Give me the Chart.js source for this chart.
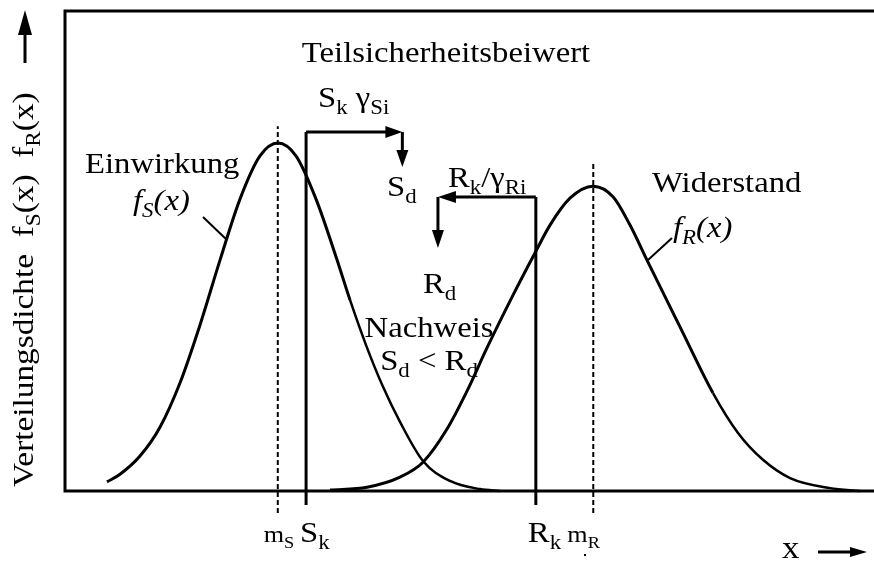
<!DOCTYPE html>
<html><head><meta charset="utf-8">
<script src="https://cdn.jsdelivr.net/npm/chart.js@4/dist/chart.umd.min.js"></script>
<style>html,body{margin:0;padding:0;background:#fff}canvas{display:block}</style>
</head><body>
<canvas id="c" width="874" height="563"></canvas>
<script>
// ---- data (x: relative position 0..100 along the x axis, y: relative density) ----
const sX = [5.19,6.80,9.27,11.74,14.21,16.69,19.16,21.63,24.10,26.33,28.55,31.03,33.50,35.23,37.21,39.31,41.41,44.25,47.59,51.30,53.77];
const sY = [0.019,0.035,0.073,0.133,0.225,0.346,0.481,0.608,0.698,0.725,0.698,0.608,0.488,0.398,0.304,0.217,0.144,0.0625,0.021,0.004,0.000];
const rX = [32.76,37.33,41.41,44.25,47.22,49.69,52.16,55.38,58.22,59.95,62.42,65.27,67.74,69.84,71.94,76.02,80.10,83.19,86.28,89.62,94.56,98.27];
const rY = [0.002,0.008,0.029,0.060,0.129,0.208,0.298,0.408,0.500,0.554,0.610,0.635,0.613,0.554,0.481,0.342,0.204,0.121,0.065,0.027,0.006,0.000];
const markerNames  = ['mS','Sk','Rk','mR'];
const markerX      = [26.3, 29.8, 58.2, 65.3];
const markerTop    = [0.760, 0.748, 0.6125, 0.683];
const markerBottom = [-0.046, -0.029, -0.029, -0.046];
const markerDashed = [true, false, false, true];
const sArrowX = [29.8, 41.7, 41.7];
const sArrowY = [0.748, 0.748, 0.675];
const rArrowX = [58.2, 46.1, 46.1];
const rArrowY = [0.6125, 0.6125, 0.506];

const FONT = '"Liberation Serif", "Times New Roman", serif';
const SX = 1.09; // horizontal stretch of the lettering

function rich(ctx, parts, x, y, size, align) {
  const items = parts.map(([t, k]) => {
    const sub = k.includes('b'), it = k.includes('i');
    const fs = sub ? size * 0.7 : size;
    const font = (it ? 'italic ' : '') + fs.toFixed(1) + 'px ' + FONT;
    ctx.font = font;
    return {t, font, w: ctx.measureText(t).width, dy: sub ? size * 0.24 : 0};
  });
  const total = items.reduce((a, b) => a + b.w, 0);
  ctx.save();
  ctx.translate(x, y);
  ctx.scale(SX, 1);
  let cx = align === 'center' ? -total / 2 : 0;
  ctx.fillStyle = '#000';
  ctx.textBaseline = 'alphabetic';
  ctx.textAlign = 'left';
  for (const it of items) { ctx.font = it.font; ctx.fillText(it.t, cx, it.dy); cx += it.w; }
  ctx.restore();
}

function head(ctx, tx, ty, dir, len, half) {
  ctx.beginPath();
  ctx.moveTo(tx, ty);
  if (dir === 'r') { ctx.lineTo(tx - len, ty - half); ctx.lineTo(tx - len, ty + half); }
  if (dir === 'l') { ctx.lineTo(tx + len, ty - half); ctx.lineTo(tx + len, ty + half); }
  if (dir === 'd') { ctx.lineTo(tx - half, ty - len); ctx.lineTo(tx + half, ty - len); }
  if (dir === 'u') { ctx.lineTo(tx - half, ty + len); ctx.lineTo(tx + half, ty + len); }
  ctx.closePath();
  ctx.fill();
}

function arrowPath(ctx, xs, ys, len, half) {
  const n = xs.length;
  const dirOf = (a, b) => Math.abs(b[0]-a[0]) > Math.abs(b[1]-a[1]) ? (b[0] > a[0] ? 'r' : 'l') : (b[1] > a[1] ? 'd' : 'u');
  ctx.lineWidth = 3; ctx.lineCap = 'butt'; ctx.strokeStyle = '#000'; ctx.fillStyle = '#000';
  for (let i = 0; i < n - 1; i++) {
    const a = [xs[i], ys[i]], b = [xs[i+1], ys[i+1]];
    const d = dirOf(a, b);
    let ex = b[0], ey = b[1];
    if (d === 'r') ex -= len * 0.8; if (d === 'l') ex += len * 0.8;
    if (d === 'd') ey -= len * 0.8; if (d === 'u') ey += len * 0.8;
    ctx.beginPath(); ctx.moveTo(a[0], a[1]); ctx.lineTo(ex, ey); ctx.stroke();
    head(ctx, b[0], b[1], d, len, half);
  }
}

const deco = {
  id: 'deco',
  beforeDatasetsDraw(chart) {
    const {ctx, scales: {x, y}} = chart;
    const L = x.getPixelForValue(0), R = x.getPixelForValue(100);
    const T = y.getPixelForValue(1), B = y.getPixelForValue(0);
    ctx.save();
    ctx.strokeStyle = '#000'; ctx.lineWidth = 3; ctx.lineCap = 'square';
    ctx.beginPath();
    ctx.moveTo(R + 5, T); ctx.lineTo(L, T); ctx.lineTo(L, B); ctx.lineTo(R + 5, B);
    ctx.stroke();
    ctx.restore();
  },
  afterDatasetsDraw(chart) {
    const {ctx, scales: {x, y}} = chart;
    const px = v => x.getPixelForValue(v), py = v => y.getPixelForValue(v);
    ctx.save();
    arrowPath(ctx, sArrowX.map(px), sArrowY.map(py), 17, 6);
    arrowPath(ctx, rArrowX.map(px), rArrowY.map(py), 18, 6);

    // leader lines
    ctx.lineWidth = 2; ctx.strokeStyle = '#000';
    ctx.beginPath(); ctx.moveTo(203, 217); ctx.lineTo(227, 240); ctx.stroke();
    ctx.beginPath(); ctx.moveTo(672, 238); ctx.lineTo(648, 260); ctx.stroke();

    const F = 30;
    rich(ctx, [['Teilsicherheitsbeiwert','']], 446, 62, F, 'center');
    rich(ctx, [['S',''],['k','b'],[' γ',''],['Si','b']], 318, 107, F);
    rich(ctx, [['S',''],['d','b']], 387, 196, F);
    rich(ctx, [['R',''],['k','b'],['/γ',''],['Ri','b']], 448, 187, F);
    rich(ctx, [['R',''],['d','b']], 423, 293, F);
    rich(ctx, [['Nachweis','']], 429, 337, F, 'center');
    rich(ctx, [['S',''],['d','b'],[' < R',''],['d','b']], 429, 370, F, 'center');
    rich(ctx, [['Einwirkung','']], 85, 173, F);
    rich(ctx, [['f','i'],['S','ib'],['(x)','i']], 133, 210, F);
    rich(ctx, [['Widerstand','']], 652, 192, F);
    rich(ctx, [['f','i'],['R','ib'],['(x)','i']], 673, 237, F);

    // labels under the x axis, at the marker positions
    const lab = {
      mS: [['m',''],['S','b']],
      Sk: [['S',''],['k','b']],
      Rk: [['R',''],['k','b']],
      mR: [['m',''],['R','b']]
    };
    const labOff = {mS: -14, Sk: -6, Rk: -8, mR: -26};
    const labSize = {mS: 24, Sk: 30, Rk: 30, mR: 24};
    markerNames.forEach((n, i) => rich(ctx, lab[n], px(markerX[i]) + labOff[n], 542, labSize[n]));
    ctx.fillRect(584, 554, 2, 2);

    // x axis caption with arrow
    rich(ctx, [['x','']], 782, 558, 32);
    ctx.lineWidth = 3;
    ctx.beginPath(); ctx.moveTo(818, 552); ctx.lineTo(852, 552); ctx.stroke();
    head(ctx, 867, 552, 'r', 17, 5);

    // y axis caption (rotated) with arrow
    ctx.save();
    ctx.translate(33, 487);
    ctx.rotate(-Math.PI / 2);
    ctx.scale(1.11, 1);
    const yParts = [['Verteilungsdichte  ',''],['f',''],['S','b'],['(x)  ',''],['f',''],['R','b'],['(x)','']];
    let cx = 0;
    yParts.forEach(([t, k]) => {
      const sub = k === 'b';
      const fs = sub ? 21 : 30;
      ctx.font = fs + 'px ' + FONT;
      ctx.fillText(t, cx, sub ? 7 : 0);
      cx += ctx.measureText(t).width;
    });
    ctx.restore();
    ctx.lineWidth = 3;
    ctx.beginPath(); ctx.moveTo(25, 63); ctx.lineTo(25, 30); ctx.stroke();
    head(ctx, 25, 10, 'u', 25, 7);
    ctx.restore();
  }
};

const curveSets = [
  {data: sX.map((v, i) => ({x: v, y: sY[i]})), borderColor: '#000', borderWidth: 3, pointRadius: 0,
   cubicInterpolationMode: 'monotone', fill: false,
   segment: {borderWidth: c => (c.p0.parsed.x > 35 ? 2.5 : 3)}},
  {data: rX.map((v, i) => ({x: v, y: rY[i]})), borderColor: '#000', borderWidth: 3, pointRadius: 0,
   cubicInterpolationMode: 'monotone', fill: false,
   segment: {borderWidth: c => (c.p0.parsed.x > 80 ? 2.5 : 3)}}
];
const markerSets = markerNames.map((n, i) => ({
  label: n,
  data: [{x: markerX[i], y: markerBottom[i]}, {x: markerX[i], y: markerTop[i]}],
  borderColor: '#000', borderWidth: markerDashed[i] ? 2 : 3, borderDash: markerDashed[i] ? [5, 3] : [],
  pointRadius: 0, fill: false, tension: 0
}));

new Chart(document.getElementById('c'), {
  type: 'line',
  data: {datasets: [...curveSets, ...markerSets]},
  options: {
    responsive: false, animation: false, devicePixelRatio: 1, events: [],
    layout: {padding: {left: 65, top: 11, right: 0, bottom: 24}},
    plugins: {legend: {display: false}, tooltip: {enabled: false}},
    scales: {
      x: {type: 'linear', min: 0, max: 100, display: false},
      y: {type: 'linear', min: -0.1, max: 1.0, display: false}
    }
  },
  plugins: [deco]
});
</script>
</body></html>
